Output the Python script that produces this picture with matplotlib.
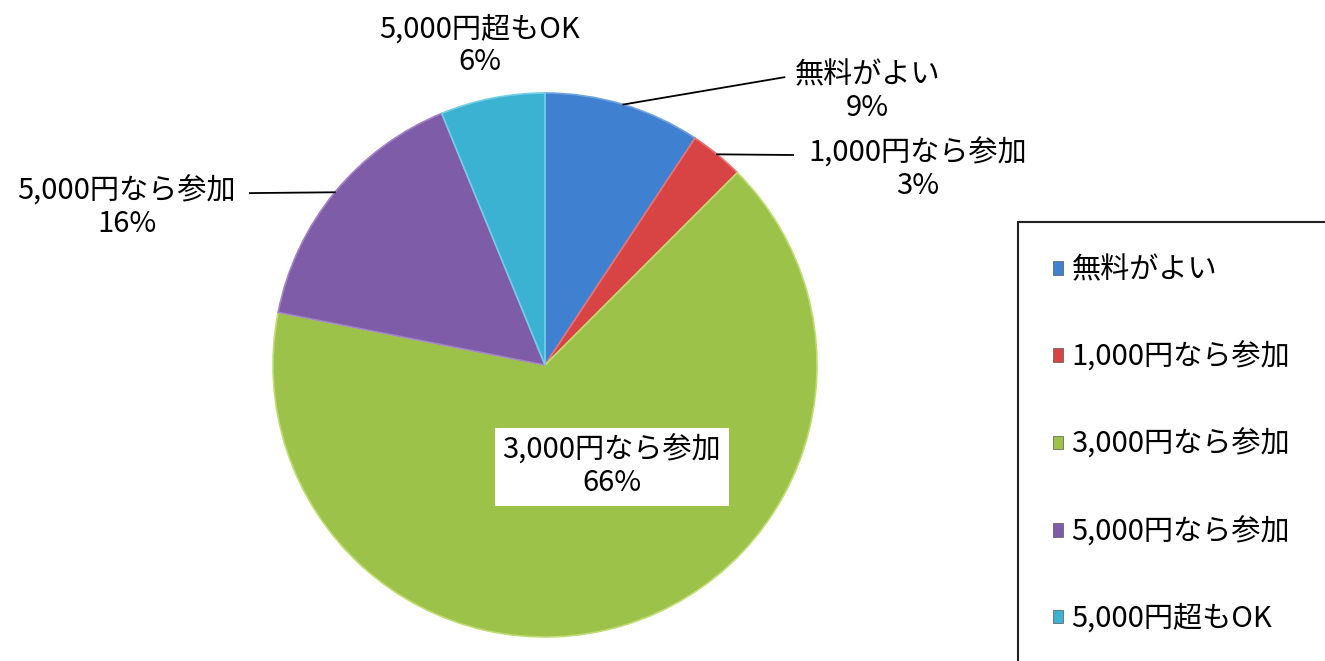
import numpy as np
import matplotlib
matplotlib.use('Agg')
import matplotlib.pyplot as plt
from matplotlib.patches import Patch, Rectangle

plt.rcParams['font.family'] = ['Noto Sans CJK JP', 'DejaVu Sans']

# データ
labels = ['無料がよい', '1,000円なら参加', '3,000円なら参加', '5,000円なら参加', '5,000円超もOK']
values = [9.3, 3.2, 65.6, 15.7, 6.2]
colors = ['#3F80D0', '#D84343', '#9CC24A', '#7E5CA8', '#3CB2D2']
edge_colors = ['#6FA3E3', '#EE7070', '#BEDD72', '#A283C8', '#72CFE6']

fig = plt.figure(figsize=(13.25, 6.61), dpi=100)
W, H = 1325, 661
cx, cy, r = 545, 365, 272
ax = fig.add_axes([(cx - r) / W, (H - cy - r) / H, 2 * r / W, 2 * r / H])

wedges, _ = ax.pie(values, colors=colors, startangle=90, counterclock=False,
                   radius=1, wedgeprops=dict(linewidth=1.2))
for w, ec in zip(wedges, edge_colors):
    w.set_edgecolor(ec)
ax.set_xlim(-1, 1)
ax.set_ylim(-1, 1)
ax.set_aspect('equal')
ax.axis('off')

fs = 21
# ラベル位置 (テキスト中心, 引き出し線の終点)
text_pos = [(1.185, 1.004), (1.371, 0.717), (0.246, -0.375), (-1.537, 0.577), (-0.239, 1.173)]
line_end = [(0.88, 1.058), (0.912, 0.772), None, (-1.085, 0.632), None]

total = sum(values)
cum = 0
for i in range(len(values)):
    mid = cum + values[i] / 2
    cum += values[i]
    ang = np.deg2rad(90 - mid / total * 360)
    pct = round(values[i] / total * 100)
    txt = labels[i] + '\n' + str(pct) + '%'
    kw = {}
    if i == 2:
        kw['bbox'] = dict(boxstyle='square,pad=0.25', fc='white', ec='none')
    ax.text(text_pos[i][0], text_pos[i][1], txt, ha='center', va='center',
            fontsize=fs, color='black', linespacing=1.1, **kw)
    if line_end[i] is not None:
        ax.plot([np.cos(ang), line_end[i][0]], [np.sin(ang), line_end[i][1]],
                color='black', linewidth=1.3, clip_on=False)

# 凡例
fig.patches.append(Rectangle((1018 / W, -0.01), 0.3, (H - 222) / H + 0.01,
                             transform=fig.transFigure, fill=False,
                             ec='#222222', lw=1.5))
handles = [Patch(facecolor=c, edgecolor='#555555', linewidth=0.5) for c in colors]
fig.legend(handles, labels, loc='upper left', bbox_to_anchor=(1038 / W, (H - 241) / H),
           frameon=False, fontsize=fs, handlelength=0.35, handleheight=0.35,
           handletextpad=0.3, labelspacing=1.95, borderpad=0)

fig.savefig('out.png', dpi=100)
